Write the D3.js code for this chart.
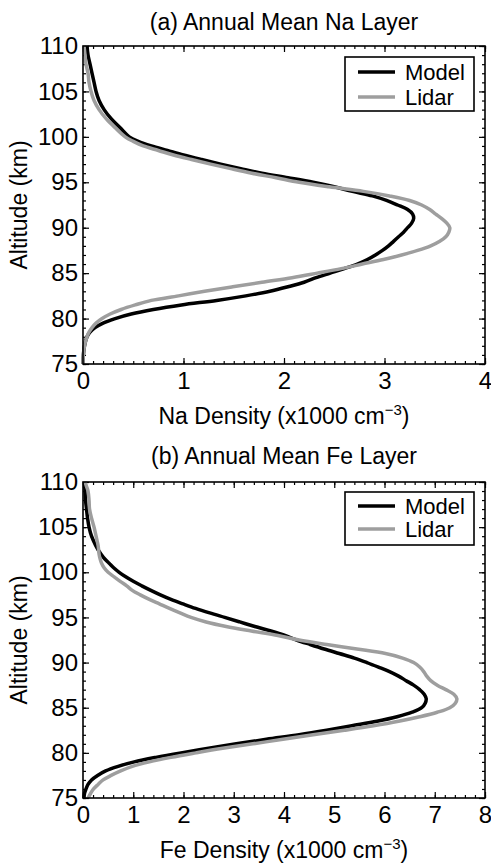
<!DOCTYPE html>
<html>
<head>
<meta charset="utf-8">
<script src="https://cdn.jsdelivr.net/npm/d3@7"></script>
<style>
  html, body { margin: 0; padding: 0; background: #fff; }
  svg { display: block; }
  text { font-family: "Liberation Sans", Arial, Helvetica, sans-serif; fill: #000; }
</style>
</head>
<body>
<script>
// ---------------- DATA ----------------
const seriesNames = ["Model", "Lidar"];
const altTicks = [75, 80, 85, 90, 95, 100, 105, 110];
const naTicks = [0, 1, 2, 3, 4];
const feTicks = [0, 1, 2, 3, 4, 5, 6, 7, 8];

// Na layer (x1000 cm^-3)
const naAltitude = [110,109,108,107,106,105,104,103,102,101,100,99.5,99,98.5,98,97.5,97,96.5,96,95.5,95,94.5,94,93.5,93,92.5,92,91.5,91,90.5,90,89.5,89,88.5,88,87.5,87,86.5,86,85.5,85,84.5,84,83.5,83,82.5,82,81.5,81,80.5,80,79.5,79,78.5,78,77,76,75];
const naModel = [0.04,0.05,0.07,0.09,0.11,0.13,0.16,0.21,0.28,0.37,0.46,0.55,0.68,0.84,1.0,1.18,1.37,1.57,1.78,2.04,2.29,2.50,2.68,2.88,3.02,3.13,3.23,3.28,3.29,3.27,3.23,3.19,3.14,3.09,3.04,2.98,2.91,2.83,2.73,2.60,2.46,2.32,2.20,2.04,1.86,1.62,1.33,0.98,0.70,0.48,0.32,0.20,0.12,0.07,0.04,0.015,0.004,0];
const naLidar = [0.01,0.02,0.03,0.05,0.06,0.08,0.11,0.16,0.23,0.32,0.42,0.50,0.60,0.75,0.90,1.08,1.27,1.47,1.68,1.92,2.15,2.45,2.79,3.05,3.25,3.37,3.45,3.51,3.57,3.62,3.65,3.64,3.61,3.55,3.46,3.33,3.17,2.99,2.78,2.57,2.33,2.08,1.78,1.49,1.21,0.95,0.68,0.52,0.38,0.27,0.19,0.13,0.09,0.06,0.04,0.015,0.003,0];

// Fe layer (x1000 cm^-3)
const feAltitude = [110,109.5,109,108,107,106,105,104,103,102.5,102,101.5,101,100.5,100,99.5,99,98.5,98,97.5,97,96.5,96,95.5,95,94.5,94,93.5,93,92.5,92,91.5,91,90.5,90,89.5,89,88.5,88,87.5,87,86.5,86,85.5,85,84.5,84,83.5,83,82.5,82,81.5,81,80.5,80,79.5,79,78.5,78,77.5,77,76.5,76,75.5,75];
const feModel = [0.03,0.035,0.04,0.05,0.07,0.09,0.12,0.17,0.25,0.30,0.36,0.43,0.52,0.61,0.72,0.85,1.0,1.17,1.35,1.54,1.75,1.99,2.24,2.52,2.82,3.12,3.42,3.74,4.02,4.25,4.52,4.8,5.1,5.4,5.65,5.88,6.1,6.28,6.43,6.58,6.70,6.79,6.83,6.81,6.74,6.55,6.25,5.85,5.35,4.85,4.3,3.65,3.05,2.5,1.95,1.45,1.02,0.70,0.45,0.29,0.17,0.10,0.06,0.03,0.02];
const feLidar = [0.04,0.07,0.10,0.12,0.13,0.17,0.22,0.26,0.30,0.31,0.32,0.34,0.37,0.42,0.50,0.62,0.74,0.87,0.98,1.14,1.32,1.52,1.72,1.93,2.15,2.45,2.85,3.35,3.88,4.30,4.85,5.45,6.02,6.36,6.58,6.70,6.78,6.84,6.92,7.05,7.22,7.38,7.44,7.41,7.30,7.05,6.70,6.28,5.78,5.20,4.58,3.98,3.38,2.78,2.25,1.75,1.32,0.98,0.75,0.56,0.40,0.30,0.21,0.15,0.10];

// ---------------- LAYOUT ----------------
const W = 491, H = 865;
const svg = d3.select("body").append("svg").attr("width", W).attr("height", H);
const colors = { Model: "#000000", Lidar: "#9e9e9e" };
const FS_TICK = 24, FS_LABEL = 23, FS_LEG = 22;

const panels = [
  { title: "(a) Annual Mean Na Layer", elem: "Na", alt: naAltitude, model: naModel, lidar: naLidar,
    xMax: 4, xTicks: naTicks, xMinorStep: 0.1,
    left: 83, right: 485, top: 46, bottom: 364, titleY: 30, legTop: 57, legBot: 111, legL1: 72, legL2: 97 },
  { title: "(b) Annual Mean Fe Layer", elem: "Fe", alt: feAltitude, model: feModel, lidar: feLidar,
    xMax: 8, xTicks: feTicks, xMinorStep: 0.2,
    left: 83, right: 485, top: 482, bottom: 798, titleY: 464, legTop: 492, legBot: 545, legL1: 506, legL2: 529 }
];

panels.forEach(p => {
  const x = d3.scaleLinear().domain([0, p.xMax]).range([p.left, p.right]);
  const y = d3.scaleLinear().domain([75, 110]).range([p.bottom, p.top]);
  const g = svg.append("g");

  const xMinor = d3.range(0, p.xMax + 1e-9, p.xMinorStep).map(v => +v.toFixed(3));
  const yMinor = d3.range(75, 110.001, 1);

  const addAxis = (axis, tx, ty) => {
    const a = g.append("g").attr("transform", `translate(${tx},${ty})`).call(axis);
    a.select(".domain").remove();
    a.selectAll("line").attr("stroke", "#000").attr("stroke-width", 1.2);
    return a;
  };
  // Minor ticks (all four sides, inward)
  addAxis(d3.axisBottom(x).tickValues(xMinor).tickSize(-3).tickFormat(""), 0, p.bottom);
  addAxis(d3.axisTop(x).tickValues(xMinor).tickSize(-3).tickFormat(""), 0, p.top);
  addAxis(d3.axisLeft(y).tickValues(yMinor).tickSize(-3).tickFormat(""), p.left, 0);
  addAxis(d3.axisRight(y).tickValues(yMinor).tickSize(-3).tickFormat(""), p.right, 0);

  // Major ticks
  const xb = addAxis(d3.axisBottom(x).tickValues(p.xTicks).tickSizeInner(-6).tickSizeOuter(0).tickPadding(10).tickFormat(d3.format("d")), 0, p.bottom);
  addAxis(d3.axisTop(x).tickValues(p.xTicks).tickSizeInner(-6).tickSizeOuter(0).tickFormat(""), 0, p.top);
  const yl = addAxis(d3.axisLeft(y).tickValues(altTicks).tickSizeInner(-6).tickSizeOuter(0).tickPadding(5).tickFormat(d3.format("d")), p.left, 0);
  addAxis(d3.axisRight(y).tickValues(altTicks).tickSizeInner(-6).tickSizeOuter(0).tickFormat(""), p.right, 0);

  [xb, yl].forEach(a => a.selectAll("text")
    .attr("font-size", FS_TICK).attr("font-family", "Liberation Sans, Arial, sans-serif").attr("fill", "#000"));
  xb.selectAll("text").attr("y", 8);

  // Curves
  const line = d3.line()
    .x(d => x(d[1]))
    .y(d => y(d[0]))
    .curve(d3.curveCatmullRom.alpha(0.5));

  const series = [
    { name: "Model", data: p.alt.map((a, i) => [a, p.model[i]]) },
    { name: "Lidar", data: p.alt.map((a, i) => [a, p.lidar[i]]) }
  ];
  series.forEach(s => {
    g.append("path").datum(s.data)
      .attr("d", line)
      .attr("fill", "none")
      .attr("stroke", colors[s.name])
      .attr("stroke-width", 3.5)
      .attr("stroke-linejoin", "round");
  });

  // Frame
  g.append("rect")
    .attr("x", p.left).attr("y", p.top)
    .attr("width", p.right - p.left).attr("height", p.bottom - p.top)
    .attr("fill", "none").attr("stroke", "#000").attr("stroke-width", 1.6);

  // Title
  g.append("text")
    .attr("x", (p.left + p.right) / 2).attr("y", p.titleY)
    .attr("text-anchor", "middle").attr("font-size", FS_LABEL)
    .text(p.title);

  // X label with superscript
  const xl = g.append("text")
    .attr("x", (p.left + p.right) / 2).attr("y", p.bottom + 60)
    .attr("text-anchor", "middle").attr("font-size", FS_LABEL);
  xl.append("tspan").text(`${p.elem} Density (x1000 cm`);
  xl.append("tspan").attr("dy", -9).attr("font-size", 15).text("\u22123");
  xl.append("tspan").attr("dy", 9).text(")");

  // Y label
  g.append("text")
    .attr("transform", `translate(27,${(p.top + p.bottom) / 2}) rotate(-90)`)
    .attr("text-anchor", "middle").attr("font-size", FS_LABEL)
    .text("Altitude (km)");

  // Legend
  const lx0 = 345, lx1 = 474;
  g.append("rect")
    .attr("x", lx0).attr("y", p.legTop)
    .attr("width", lx1 - lx0).attr("height", p.legBot - p.legTop)
    .attr("fill", "#fff").attr("stroke", "#000").attr("stroke-width", 1.6);
  [[seriesNames[0], p.legL1], [seriesNames[1], p.legL2]].forEach(([nm, ly]) => {
    g.append("line")
      .attr("x1", 358).attr("x2", 395).attr("y1", ly).attr("y2", ly)
      .attr("stroke", colors[nm]).attr("stroke-width", 3.5);
    g.append("text")
      .attr("x", 405).attr("y", ly + 8).attr("font-size", FS_LEG)
      .text(nm);
  });
});
</script>
</body>
</html>
